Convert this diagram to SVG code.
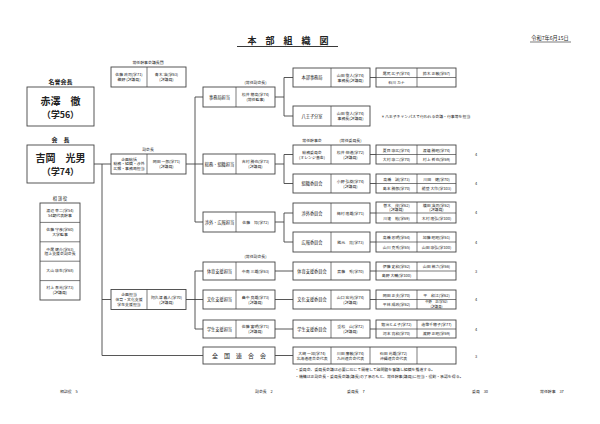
<svg xmlns="http://www.w3.org/2000/svg" width="600" height="424" viewBox="0 0 600 424">
<style>
.b{fill:#fff;stroke:#444;stroke-width:0.9}
.d{stroke:#444;stroke-width:0.7;fill:none}
.c{stroke:#444;stroke-width:0.9;fill:none}
text{font-family:"Noto Sans CJK JP","Noto Sans",sans-serif;fill:#222;text-anchor:middle}
.t{font-size:4.2px}
.m{font-size:3.9px}
.h{font-size:5px}
.big{font-size:10px;font-weight:bold}
.big2{font-size:8.8px;font-weight:bold}
</style>
<rect width="600" height="424" fill="#fff"/>

<g id="title">
<text x="288" y="44" style="font-size:9px;font-weight:bold">本　部　組　織　図</text>
<line x1="237" y1="46.5" x2="338" y2="46.5" stroke="#222" stroke-width="0.9"/>
<text x="550" y="40" style="font-size:5.2px">令和7年6月15日</text>
<line x1="530" y1="42" x2="571" y2="42" stroke="#222" stroke-width="0.6"/>
</g>

<g id="connectors" class="c">
<path d="M94 164H111 M102 164V355.5H203 M102 299.5H111 M186 164H203 M195 97V222 M195 97H203 M195 222H203 M186 299.5H203 M195 271V329 M195 271H203 M195 329H203 M275 97H284 M284 77.5V116 M284 77.5H293 M284 116H293 M275 164H284 M284 154.5V183.5 M284 154.5H293 M284 183.5H293 M275 222H284 M284 213V242 M284 213H293 M284 242H293 M275 271H293 M275 299.5H293 M275 329H293 M275 355.5H293 M370 77.5H376 M370 154.5H376 M370 183.5H376 M370 213H376 M370 242H376 M370 271H376 M370 299.5H376 M370 329H376"/>
</g>

<g id="honorary">
<text x="60.5" y="84" style="font-size:6px;font-weight:bold">名誉会長</text>
<rect class="b" x="27" y="87" width="67" height="39"/>
<text x="60.5" y="104.5" class="big">赤澤　徹</text>
<text x="60.5" y="117.5" class="big2">（学56）</text>
</g>

<g id="president">
<text x="60.5" y="142" style="font-size:6px;font-weight:bold">会　長</text>
<rect class="b" x="27" y="145" width="67" height="38"/>
<text x="60.5" y="162" class="big">吉岡　光男</text>
<text x="60.5" y="175" class="big2">（学74）</text>
</g>

<g id="advisors">
<text x="60" y="199.5" class="t">相 談 役</text>
<rect class="b" x="40" y="203" width="40" height="97"/>
<path class="d" d="M40 222.4H80 M40 241.8H80 M40 261.2H80 M40 280.6H80"/>
<text x="60" y="211.8" class="m">渡辺 幸二(学54)</text>
<text x="60" y="216.6" class="m">54期代表幹事</text>
<text x="60" y="231.2" class="m">佐藤 守彦(学60)</text>
<text x="60" y="236" class="m">大学監事</text>
<text x="60" y="250.6" class="m">中尾 健介(学63)</text>
<text x="60" y="255.4" class="m">陸上支援会副会長</text>
<text x="60" y="272.3" class="m">大山 康生(学68)</text>
<text x="60" y="289.4" class="m">村上 泰光(学73)</text>
<text x="60" y="294.2" class="m">(評議員)</text>
</g>

<g id="chairs">
<text x="148" y="63.5" class="m">常任幹事会議長団</text>
<rect class="b" x="111" y="67" width="75" height="20"/>
<line class="d" x1="147" y1="67" x2="147" y2="87"/>
<text x="129" y="76" class="m">佐藤 政司(学71)</text>
<text x="129" y="81" class="m">鵜野 (評議員)</text>
<text x="166.5" y="76" class="m">青木 浩(学63)</text>
<text x="166.5" y="81" class="m">(評議員)</text>
</g>

<g id="vice1">
<text x="148" y="150.5" class="m">副会長</text>
<rect class="b" x="111" y="154" width="75" height="20"/>
<line class="d" x1="147" y1="154" x2="147" y2="174"/>
<text x="129" y="160.5" class="m">企画総括</text>
<text x="129" y="165.3" class="m">総務・組織・渉外</text>
<text x="129" y="170.1" class="m">広報・事務局担当</text>
<text x="166.5" y="163" class="m">岡田 一郎(学71)</text>
<text x="166.5" y="168" class="m">(評議員)</text>
</g>

<g id="vice2">
<rect class="b" x="111" y="289.5" width="75" height="20"/>
<line class="d" x1="147" y1="289.5" x2="147" y2="309.5"/>
<text x="129" y="296" class="m">企画担当</text>
<text x="129" y="300.8" class="m">体育・文化支援</text>
<text x="129" y="305.6" class="m">学生支援担当</text>
<text x="166.5" y="298.5" class="m">阿久津 義人(学70)</text>
<text x="166.5" y="303.5" class="m">(評議員)</text>
</g>

<text x="255.5" y="84" class="m">(常任副会長)</text>
<text x="255.5" y="258" class="m">(常任副会長)</text>
<text x="312" y="142" class="m">常任幹事会</text>
<text x="350.5" y="142" class="m">(常任委員長)</text>

<g id="dept-jimukyoku">
<rect class="b" x="203" y="87" width="72" height="20"/>
<line class="d" x1="236" y1="87" x2="236" y2="107"/>
<text x="219.5" y="98.5" class="t">事務局担当</text>
<text x="255.5" y="96" class="m">松井 穂高(学74)</text>
<text x="255.5" y="101" class="m">(常任監事)</text>
</g>
<g id="dept-soumu">
<rect class="b" x="203" y="154" width="72" height="20"/>
<line class="d" x1="236" y1="154" x2="236" y2="174"/>
<text x="219.5" y="165.5" class="t">総務・組織担当</text>
<text x="255.5" y="163" class="m">吉村 勝也(学73)</text>
<text x="255.5" y="168" class="m">(評議員)</text>
</g>
<g id="dept-shougai">
<rect class="b" x="203" y="212" width="72" height="20"/>
<line class="d" x1="236" y1="212" x2="236" y2="232"/>
<text x="219.5" y="223.5" class="t">渉外・広報担当</text>
<text x="255.5" y="223.5" class="m">佐藤　博(学72)</text>
</g>
<g id="dept-taiiku">
<rect class="b" x="203" y="262" width="72" height="18"/>
<line class="d" x1="236" y1="262" x2="236" y2="280"/>
<text x="219.5" y="272.5" class="t">体育支援担当</text>
<text x="255.5" y="272.5" class="m">中南 三雄(学63)</text>
</g>
<g id="dept-bunka">
<rect class="b" x="203" y="290" width="72" height="19"/>
<line class="d" x1="236" y1="290" x2="236" y2="309"/>
<text x="219.5" y="301" class="t">文化支援担当</text>
<text x="255.5" y="298.5" class="m">畠中 良雄(学73)</text>
<text x="255.5" y="303.5" class="m">(評議員)</text>
</g>
<g id="dept-gakusei">
<rect class="b" x="203" y="320" width="72" height="18"/>
<line class="d" x1="236" y1="320" x2="236" y2="338"/>
<text x="219.5" y="330.5" class="t">学生支援担当</text>
<text x="255.5" y="328" class="m">佐藤 富明(学71)</text>
<text x="255.5" y="333" class="m">(評議員)</text>
</g>
<g id="dept-zenkoku">
<rect class="b" x="203" y="347" width="72" height="17"/>
<text x="239" y="358" style="font-size:6px">全　国　連　合　会</text>
</g>

<g id="com-honbu">
<rect class="b" x="293" y="68" width="77" height="19"/>
<line class="d" x1="331" y1="68" x2="331" y2="87"/>
<text x="312" y="79" class="t">本部事務局</text>
<text x="350.5" y="76.5" class="m">山田 俊人(学74)</text>
<text x="350.5" y="81.5" class="m">事務長(評議員)</text>
</g>
<g id="com-hachioji">
<rect class="b" x="293" y="106" width="77" height="20"/>
<line class="d" x1="331" y1="106" x2="331" y2="126"/>
<text x="312" y="117.5" class="t">八王子分室</text>
<text x="350.5" y="115" class="m">山田 俊人(学74)</text>
<text x="350.5" y="120" class="m">事務長(評議員)</text>
<text x="381" y="117.5" class="m" style="text-anchor:start">＊八王子キャンパスで行われる会議・行事等を担当</text>
</g>
<g id="com-soumu">
<rect class="b" x="293" y="145" width="77" height="19"/>
<line class="d" x1="331" y1="145" x2="331" y2="164"/>
<text x="312" y="153.5" class="m">総務委員会</text>
<text x="312" y="158.5" class="m">(オレンジ基金)</text>
<text x="350.5" y="153.5" class="m">松井 伸道(学72)</text>
<text x="350.5" y="158.5" class="m">(評議員)</text>
</g>
<g id="com-soshiki">
<rect class="b" x="293" y="174" width="77" height="19"/>
<line class="d" x1="331" y1="174" x2="331" y2="193"/>
<text x="312" y="185" class="t">組織委員会</text>
<text x="350.5" y="182.5" class="m">小野 弘樹(学74)</text>
<text x="350.5" y="187.5" class="m">(評議員)</text>
</g>
<g id="com-shougai">
<rect class="b" x="293" y="203" width="77" height="20"/>
<line class="d" x1="331" y1="203" x2="331" y2="223"/>
<text x="312" y="214.5" class="t">渉外委員会</text>
<text x="350.5" y="214.5" class="m">梅村 隆雄(学71)</text>
</g>
<g id="com-kouhou">
<rect class="b" x="293" y="232" width="77" height="20"/>
<line class="d" x1="331" y1="232" x2="331" y2="252"/>
<text x="312" y="243.5" class="t">広報委員会</text>
<text x="350.5" y="243.5" class="m">熊元　貴(学73)</text>
</g>
<g id="com-taiiku">
<rect class="b" x="293" y="262" width="77" height="18"/>
<line class="d" x1="331" y1="262" x2="331" y2="280"/>
<text x="312" y="272.5" class="t">体育支援委員会</text>
<text x="350.5" y="272.5" class="m">斎藤　秀(学70)</text>
</g>
<g id="com-bunka">
<rect class="b" x="293" y="290" width="77" height="19"/>
<line class="d" x1="331" y1="290" x2="331" y2="309"/>
<text x="312" y="301" class="t">文化支援委員会</text>
<text x="350.5" y="298.5" class="m">山口 宏光(学74)</text>
<text x="350.5" y="303.5" class="m">(評議員)</text>
</g>
<g id="com-gakusei">
<rect class="b" x="293" y="320" width="77" height="18"/>
<line class="d" x1="331" y1="320" x2="331" y2="338"/>
<text x="312" y="330.5" class="t">学生支援委員会</text>
<text x="350.5" y="328" class="m">重松　山(学72)</text>
<text x="350.5" y="333" class="m">(評議員)</text>
</g>
<g id="zenkoku-members">
<rect class="b" x="293" y="347" width="163" height="17"/>
<path class="d" d="M331 347V364 M370 347V364 M417 347V364"/>
<text x="312" y="354.5" class="m">大崎 一加(学74)</text>
<text x="312" y="359.5" class="m">北海道連合会代表</text>
<text x="350.5" y="354.5" class="m">川田 廉敏(学74)</text>
<text x="350.5" y="359.5" class="m">九州連合会代表</text>
<text x="393.5" y="354.5" class="m">石田 光雄(学72)</text>
<text x="393.5" y="359.5" class="m">沖縄連合会代表</text>
<text x="476" y="357.5" class="m">3</text>
</g>

<g id="mem-honbu">
<rect class="b" x="376" y="68" width="80" height="19"/>
<path class="d" d="M417 68V87 M376 77.5H456"/>
<text x="396.5" y="74.5" class="m">尾尻 広子(学74)</text>
<text x="436.5" y="74.5" class="m">鈴木 正敏(学67)</text>
<text x="396.5" y="84" class="m">石川 カナ</text>
</g>
<g id="mem-soumu">
<rect class="b" x="376" y="145" width="80" height="19"/>
<path class="d" d="M417 145V164 M376 154.5H456"/>
<text x="396.5" y="151.5" class="m">夏目 康広(学74)</text>
<text x="436.5" y="151.5" class="m">渡邉 勝昭(学74)</text>
<text x="396.5" y="161" class="m">大村 康二(学70)</text>
<text x="436.5" y="161" class="m">村上 哲也(学69)</text>
<text x="476" y="156" class="m">4</text>
</g>
<g id="mem-soshiki">
<rect class="b" x="376" y="174" width="80" height="19"/>
<path class="d" d="M417 174V193 M376 183.5H456"/>
<text x="396.5" y="180.5" class="m">高橋　誠(学73)</text>
<text x="436.5" y="180.5" class="m">川田　健(学70)</text>
<text x="396.5" y="190" class="m">島本 勝郎(学70)</text>
<text x="436.5" y="190" class="m">能登 大作(学103)</text>
<text x="476" y="185" class="m">4</text>
</g>
<g id="mem-shougai">
<rect class="b" x="376" y="202" width="80" height="21"/>
<path class="d" d="M417 202V223 M376 213H456"/>
<text x="396.5" y="206.8" class="m">曽木　茂(学62)</text>
<text x="396.5" y="211.3" class="m">(評議員)</text>
<text x="436.5" y="206.8" class="m">横田 浩司(学62)</text>
<text x="436.5" y="211.3" class="m">(評議員)</text>
<text x="396.5" y="219.5" class="m">川邊　勉(学69)</text>
<text x="436.5" y="219.5" class="m">木村 隆弘(学100)</text>
<text x="476" y="214" class="m">4</text>
</g>
<g id="mem-kouhou">
<rect class="b" x="376" y="232" width="80" height="20"/>
<path class="d" d="M417 232V252 M376 242H456"/>
<text x="396.5" y="238.5" class="m">高橋 忠明(学64)</text>
<text x="436.5" y="238.5" class="m">加藤 昭昭(学61)</text>
<text x="396.5" y="248.5" class="m">山川 克秀(学65)</text>
<text x="436.5" y="248.5" class="m">山田 康弘(学100)</text>
<text x="476" y="243.5" class="m">4</text>
</g>
<g id="mem-taiiku">
<rect class="b" x="376" y="262" width="80" height="18"/>
<path class="d" d="M417 262V280 M376 271H456"/>
<text x="396.5" y="268" class="m">伊藤 史和(学62)</text>
<text x="436.5" y="268" class="m">山田 裕之(学66)</text>
<text x="396.5" y="277" class="m">島野 大輔(学100)</text>
<text x="476" y="273" class="m">3</text>
</g>
<g id="mem-bunka">
<rect class="b" x="376" y="290" width="80" height="19"/>
<path class="d" d="M417 290V309 M376 299.5H456"/>
<text x="396.5" y="296.5" class="m">岡田 正夫(学70)</text>
<text x="436.5" y="296.5" class="m">平　和江(学62)</text>
<text x="396.5" y="306" class="m">平林 成政(学62)</text>
<text x="436.5" y="303.4" style="font-size:3.3px">中野　正(学62)</text>
<text x="436.5" y="307.7" style="font-size:3.3px">(評議員)</text>
<text x="476" y="301" class="m">4</text>
</g>
<g id="mem-gakusei">
<rect class="b" x="376" y="320" width="80" height="18"/>
<path class="d" d="M417 320V338 M376 329H456"/>
<text x="396.5" y="326" class="m">鍛冶とよ子(学72)</text>
<text x="436.5" y="326" class="m">造幣千穂子(学77)</text>
<text x="396.5" y="335" class="m">河本 貴和(学70)</text>
<text x="436.5" y="335" class="m">濱野 正昭(学69)</text>
<text x="476" y="331" class="m">4</text>
</g>

<g id="notes">
<text x="295" y="371" class="m" style="text-anchor:start">・委員会、委員長会議は必要に応じて開催して諸問題を審議し組織を推進する。</text>
<text x="295" y="377.5" class="m" style="text-anchor:start">・機構は正副会長・委員長会議(議長)の了承のもと、常任幹事(議員)に担当・役割・承認を得る。</text>
</g>

<g id="counts">
<text x="60" y="393" class="m" style="text-anchor:start">相談役　5</text>
<text x="255" y="393" class="m" style="text-anchor:start">副会長　2</text>
<text x="347" y="393" class="m" style="text-anchor:start">委員長　7</text>
<text x="472" y="393" class="m" style="text-anchor:start">委員　30</text>
<text x="540" y="393" class="m" style="text-anchor:start">常任幹事　37</text>
</g>
</svg>
